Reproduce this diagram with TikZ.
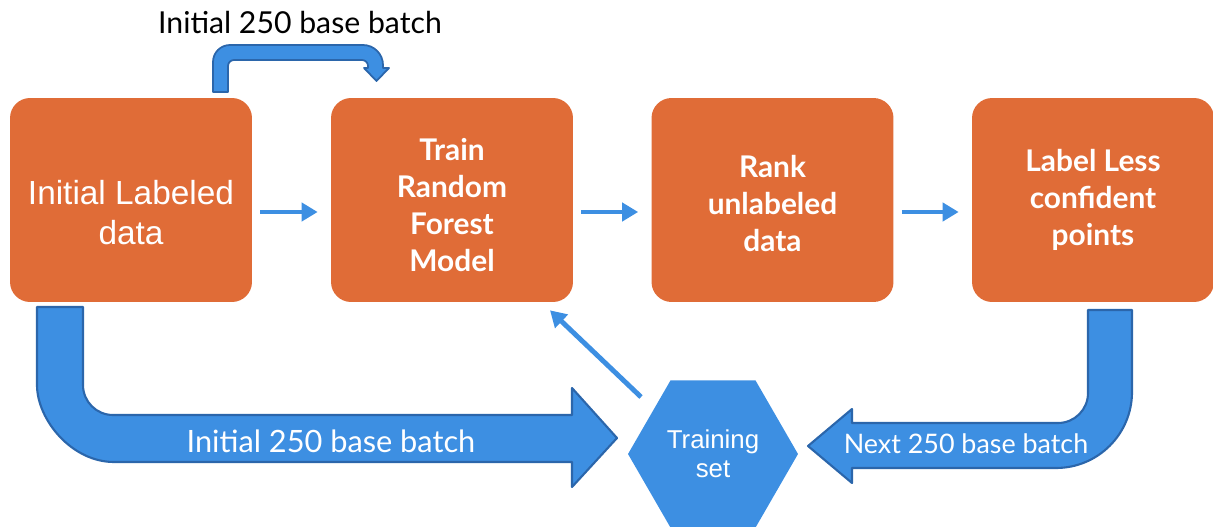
\documentclass[tikz,border=0pt]{standalone}
\usepackage{fontspec}
\setmainfont{Lato}
\newfontfamily\arialfont{Liberation Sans}
\usetikzlibrary{shapes.geometric}
\usetikzlibrary{arrows.meta}
\usetikzlibrary{calc}

\definecolor{boxorange}{HTML}{E06C37}
\definecolor{arrowblue}{HTML}{3D8FE2}
\definecolor{rimblue}{HTML}{2B66AB}

\begin{document}
\begin{tikzpicture}[x=0.02cm, y=-0.02cm,
        stage/.style={fill=boxorange, rounded corners=0.4cm, minimum width=4.84cm, minimum height=4.08cm,
            inner sep=0pt, text=white, align=center, font=\fontsize{17}{21}\selectfont\bfseries},
        flow/.style={arrowblue, line width=2.8pt, -{Triangle[length=0.32cm, width=0.36cm]}},
        bigarrow/.style={fill=arrowblue, draw=rimblue, line width=1.2pt, line join=round},
        batchlabel/.style={font=\fontsize{17.5}{20}\selectfont, text=white}]
        \useasboundingbox (0,0) rectangle (1213,527);

        % Process boxes
        \node[stage, font=\arialfont\fontsize{19}{23.2}\selectfont] (init) at (131,200) {\rule{0pt}{28pt}Initial Labeled\\data};
        \node[stage] (train) at (452,200) {\rule{0pt}{18pt}Train\\Random\\Forest\\Model};
        \node[stage] (rank) at (772.5,200) {\rule{0pt}{17pt}Rank\\unlabeled\\data};
        \node[stage] (label) at (1093,200) {Label Less\\confident\\points};

        % Small arrows between boxes
        \draw[flow] ($(init.east)+(8,12)$) -- ($(train.west)+(-13,12)$);
        \draw[flow] ($(train.east)+(8,12)$) -- ($(rank.west)+(-13,12)$);
        \draw[flow] ($(rank.east)+(8,12)$) -- ($(label.west)+(-13,12)$);

        % Top bent arrow
        \filldraw[bigarrow, line width=1pt] (213,92) -- (213,62) .. controls (213,52.6) and (220.6,45) .. (230,45)
            -- (363,45) .. controls (374,45) and (383,54) .. (383,65) -- (383,68) -- (389,68) -- (376.5,81)
            -- (364,68) -- (368,68) -- (368,66) .. controls (368,62.7) and (365.3,60) .. (362,60)
            -- (234,60) .. controls (230.7,60) and (228,62.7) .. (228,66) -- (228,92) -- cycle;
        \node[font=\fontsize{17.2}{20}\selectfont] (toplbl) at (300,22) {Initial 250 base batch};

        % Left block arrow
        \filldraw[bigarrow] (37,307) -- (83,307) -- (83,385) .. controls (83,401.6) and (96.4,415) .. (113,415)
            -- (572,415) -- (572,388) -- (617,438) -- (572,487) -- (572,462)
            -- (114,462) .. controls (71.5,462) and (37,419.5) .. (37,385) -- cycle;
        \node[batchlabel] (leftlbl) at (331,441) {Initial 250 base batch};

        % Right block arrow
        \filldraw[bigarrow] (1132,310) -- (1088,310) -- (1088,393) .. controls (1088,409.6) and (1074.6,423) .. (1058,423)
            -- (852,423) -- (852,409) -- (808,446) -- (852,483) -- (852,468)
            -- (1056,468) .. controls (1098,468) and (1132,434) .. (1132,392) -- cycle;
        \node[batchlabel, font=\fontsize{15.3}{18}\selectfont] (rightlbl) at (966,444) {Next 250 base batch};

        % Training set
        \node[regular polygon, regular polygon sides=6, fill=arrowblue,
            minimum size=3.4cm, inner sep=0pt, text=white, align=center,
            font=\arialfont\fontsize{14.7}{16.5}\selectfont] (trainset) at (713,454) {Training\\set};
        \draw[flow] ($(trainset.center)+(-72,-57)$) -- ($(train.south)+(98,8)$);

    \end{tikzpicture}
\end{document}
